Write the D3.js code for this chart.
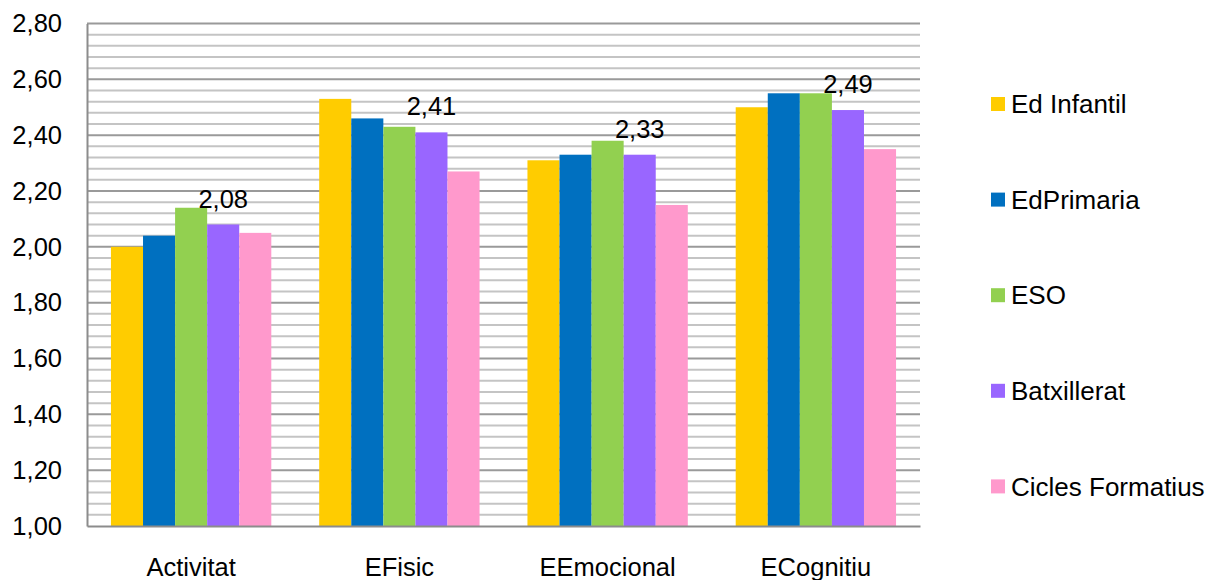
<!DOCTYPE html>
<html>
<head>
<meta charset="utf-8">
<script src="https://cdn.jsdelivr.net/npm/d3@7"></script>
<style>
  html, body { margin: 0; padding: 0; background: #fff; }
  svg { display: block; font-family: "Liberation Sans", Arial, sans-serif; }
</style>
</head>
<body>
<svg id="chart" width="1210" height="580"></svg>
<script>
const categories = ["Activitat", "EFisic", "EEmocional", "ECognitiu"];
const seriesNames = ["Ed Infantil", "EdPrimaria", "ESO", "Batxillerat", "Cicles Formatius"];
const seriesColors = ["#FFCC00", "#0070C0", "#92D050", "#9966FF", "#FF99CC"];
const edInfantil = [2.00, 2.53, 2.31, 2.50];
const edPrimaria = [2.04, 2.46, 2.33, 2.55];
const eso = [2.14, 2.43, 2.38, 2.55];
const batxillerat = [2.08, 2.41, 2.33, 2.49];
const ciclesFormatius = [2.05, 2.27, 2.15, 2.35];
const seriesValues = [edInfantil, edPrimaria, eso, batxillerat, ciclesFormatius];
const labeledSeries = 3; // Batxillerat values shown as labels
const yTicks = [1.00, 1.20, 1.40, 1.60, 1.80, 2.00, 2.20, 2.40, 2.60, 2.80];
const yMinorStep = 0.04;

const svg = d3.select("#chart");
const pLeft = 87, pRight = 920, pTop = 23.5, pBottom = 526;
const fmt = v => v.toFixed(2).replace(".", ",");

const x = d3.scaleBand().domain(categories).range([pLeft, pRight]).paddingInner(0.23).paddingOuter(0.115);
const xs = d3.scaleBand().domain(d3.range(seriesNames.length)).range([0, x.bandwidth()]);
const y = d3.scaleLinear().domain([1.0, 2.8]).range([pBottom, pTop]);

// minor gridlines
const minor = d3.range(0, 46).map(i => 1.0 + i * yMinorStep).filter(v => Math.abs((v - 1) / 0.2 - Math.round((v - 1) / 0.2)) > 1e-6);
svg.append("g").selectAll("line").data(minor).join("line")
  .attr("x1", pLeft).attr("x2", pRight)
  .attr("y1", d => y(d)).attr("y2", d => y(d))
  .attr("stroke", "#c4c4c4").attr("stroke-width", 2);

// major gridlines
svg.append("g").selectAll("line").data(yTicks.slice(1)).join("line")
  .attr("x1", pLeft).attr("x2", pRight)
  .attr("y1", d => y(d)).attr("y2", d => y(d))
  .attr("stroke", "#9a9a9a").attr("stroke-width", 2);

// bars
const groups = svg.append("g").selectAll("g").data(categories).join("g")
  .attr("transform", d => `translate(${x(d)},0)`);
groups.selectAll("rect").data((c, ci) => seriesValues.map((vals, si) => ({ si, v: vals[ci] })))
  .join("rect")
  .attr("x", d => xs(d.si))
  .attr("width", xs.bandwidth())
  .attr("y", d => y(d.v))
  .attr("height", d => pBottom - y(d.v))
  .attr("fill", d => seriesColors[d.si]);

// data labels
svg.append("g").selectAll("text").data(categories).join("text")
  .attr("x", c => x(c) + xs(labeledSeries) + xs.bandwidth() / 2)
  .attr("y", (c, i) => y(seriesValues[labeledSeries][i]) - 17)
  .attr("text-anchor", "middle")
  .attr("font-size", 25.5)
  .attr("fill", "#000")
  .text((c, i) => fmt(seriesValues[labeledSeries][i]));

// axes
const yAxis = svg.append("g").attr("transform", `translate(${pLeft},0)`)
  .call(d3.axisLeft(y).tickValues(yTicks).tickFormat(fmt).tickSize(0).tickPadding(25));
yAxis.select(".domain").attr("stroke", "#8c8c8c").attr("stroke-width", 2);
yAxis.selectAll("text").attr("font-size", 25.5).attr("fill", "#000")
  .attr("font-family", "Liberation Sans, Arial, sans-serif");

const xAxis = svg.append("g").attr("transform", `translate(0,${pBottom})`)
  .call(d3.axisBottom(x).tickSize(0).tickPadding(32));
xAxis.select(".domain").attr("stroke", "#8c8c8c").attr("stroke-width", 2);
xAxis.selectAll("text").attr("font-size", 25.5).attr("fill", "#000")
  .attr("font-family", "Liberation Sans, Arial, sans-serif");

// legend
const legend = svg.append("g").selectAll("g").data(seriesNames).join("g")
  .attr("transform", (d, i) => `translate(991,${104 + i * 95.6})`);
legend.append("rect").attr("x", 0).attr("y", -7).attr("width", 14).attr("height", 14)
  .attr("fill", (d, i) => seriesColors[i]);
legend.append("text").attr("x", 20).attr("y", 0).attr("dy", "0.35em")
  .attr("font-size", 26).attr("fill", "#000").text(d => d);
</script>
</body>
</html>
